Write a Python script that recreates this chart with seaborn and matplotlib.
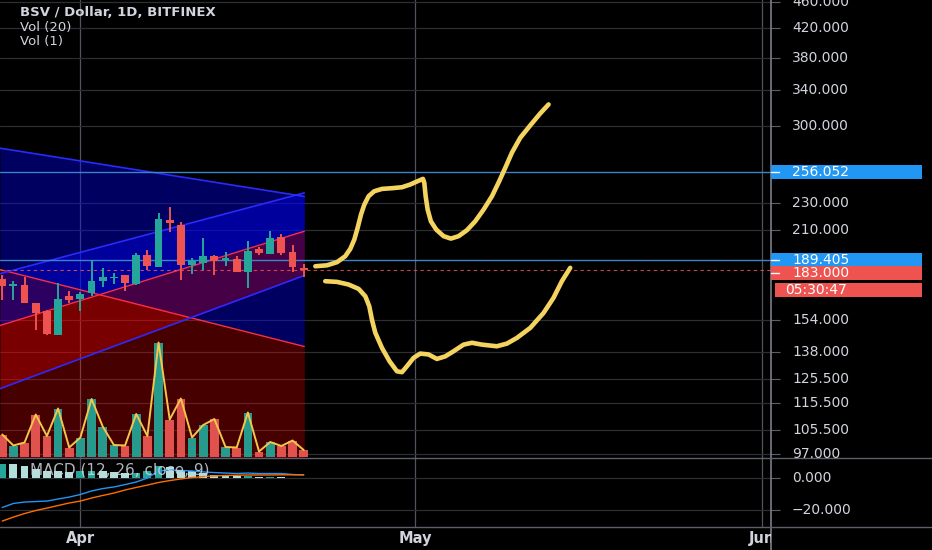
import matplotlib
matplotlib.use('Agg')
import matplotlib.pyplot as plt
import seaborn as sns
import numpy as np
from matplotlib.patches import Rectangle
from matplotlib.lines import Line2D
from matplotlib.ticker import FixedLocator, NullLocator
from matplotlib.transforms import IdentityTransform, Bbox, TransformedBbox
from matplotlib.transforms import blended_transform_factory as blend

# ---- data (days counted from Apr 1) ----
days = list(range(-7, 21))
opens = [177.3, 172.9, 173.5, 163.3, 158.6, 146.4, 167.0, 165.7, 169.0, 175.9,
         177.7, 179.4, 174.4, 192.8, 184.8, 217.5, 213.8, 186.3, 187.0, 191.6,
         189.0, 190.0, 181.4, 196.2, 193.5, 204.7, 194.3, 184.2]
highs = [179.4, 175.9, 178.6, 163.4, 159.1, 174.9, 170.3, 169.4, 189.0, 184.2,
         181.2, 180.0, 193.9, 195.7, 222.1, 227.2, 216.0, 190.6, 204.2, 192.8,
         194.3, 191.6, 201.9, 198.0, 209.4, 207.1, 199.6, 186.9]
lows = [165.1, 165.1, 163.0, 148.9, 146.3, 146.0, 163.3, 158.6, 167.0, 172.5,
        174.4, 169.9, 173.8, 183.1, 184.8, 208.2, 176.5, 180.6, 183.1, 180.0,
        185.6, 181.8, 171.9, 192.8, 193.5, 192.8, 181.4, 178.3]
closes = [172.9, 174.3, 163.3, 157.7, 146.9, 165.5, 165.1, 168.6, 175.9, 178.6,
          178.6, 174.9, 192.8, 185.2, 218.0, 215.0, 186.3, 188.4, 192.1, 188.4,
          190.6, 181.8, 195.0, 193.9, 203.9, 193.9, 184.8, 183.0]
volumes = [22, 11, 14, 42, 20.5, 48, 9, 19, 57.5, 30, 11.5, 11, 42.5, 20.5,
           114, 37, 58, 19, 31.5, 37.5, 9.5, 9, 44, 5, 14.5, 10.5, 16, 6.5]
macd_line = [-18.4, -15.9, -15.0, -14.7, -14.4, -13.1, -11.9, -10.3, -8.1, -6.6,
             -5.6, -4.1, -2.5, 0.0, 4.4, 5.0, 4.7, 4.4, 3.8, 3.4,
             3.1, 2.8, 3.1, 2.8, 2.8, 2.8, 2.2, 1.9]
signal_line = [-26.9, -24.4, -22.2, -20.3, -18.8, -17.2, -15.6, -14.4, -12.5, -10.9,
               -9.4, -7.5, -5.9, -4.4, -2.8, -1.6, -0.6, 0.3, 0.9, 1.3,
               1.6, 1.7, 1.9, 1.9, 1.9, 2.0, 2.0, 2.0]

# regression trend channels: start/end day, mid-line prices, deviation
chan_days = [-7.2, 20.05]
desc_mid = [183.1, 140.5]
desc_dev = 95.0
asc_mid = [151.0, 208.9]
asc_dev = 29.5

# hand drawn projections (day, price)
up_days = [21.04, 22.08, 22.98, 23.72, 24.17, 24.53, 24.83, 25.13, 25.43, 25.81, 26.32,
           27.01, 27.90, 28.80, 29.54, 30.20, 30.68, 30.80, 30.92, 31.10, 31.39, 31.87,
           32.53, 33.18, 33.87, 34.62, 35.36, 36.11, 36.86, 37.51, 38.05, 38.65, 39.39,
           40.29, 41.18, 41.93]
up_prices = [185.2, 185.8, 187.8, 191.7, 196.6, 203.0, 211.4, 221.3, 229.0, 235.7, 239.8,
             241.7, 242.3, 243.1, 245.4, 248.2, 250.2, 246.8, 235.7, 225.1, 216.2, 210.1,
             205.4, 203.7, 205.4, 209.7, 216.2, 225.1, 235.7, 248.2, 259.9, 273.9, 288.2,
             300.8, 313.4, 323.3]
down_days = [21.93, 22.98, 24.02, 24.92, 25.52, 25.87, 26.11, 26.41, 27.01, 27.69,
             28.35, 28.80, 29.25, 29.84, 30.44, 31.18, 31.93, 32.68, 33.42, 34.32,
             35.07, 35.96, 37.30, 38.20, 39.09, 40.29, 41.48, 42.37, 43.12, 43.87]
down_prices = [175.9, 175.5, 173.9, 171.3, 167.0, 161.4, 154.1, 147.3, 139.8, 133.5,
               129.0, 128.6, 131.3, 135.1, 137.1, 136.7, 134.6, 135.8, 138.2, 141.4,
               142.3, 141.4, 140.6, 141.9, 144.7, 149.8, 157.7, 166.1, 175.9, 184.2]

price_ticks = [97, 105.5, 115.5, 125.5, 138, 154, 210, 230, 300, 340, 380, 420, 460]
macd_ticks = [0, -20]
macd_labels = ['0.000', '\u221220.000']
month_days = [0, 30, 61]
month_labels = ['Apr', 'May', 'Jun']
level_prices = [256.052, 189.405]
last_price = 183.0
countdown = '05:30:47'

TEAL, RED = '#26a69a', '#ef5350'
TXT = '#d1d4dc'

sns.set_theme(style='dark', rc={'axes.facecolor': 'black', 'figure.facecolor': 'black'})
plt.rcParams['font.family'] = ['DejaVu Sans']

W, H = 932, 550
fig = plt.figure(figsize=(W / 100, H / 100), dpi=100, facecolor='black')
pr = 771 / W
ax = fig.add_axes([0, 92 / H, pr, 458 / H])
axv = ax.twinx()
axm = fig.add_axes([0, 23 / H, pr, 69 / H], sharex=ax)

for a in (ax, axv, axm):
    for s in a.spines.values():
        s.set_visible(False)
ax.set_facecolor('black')
axm.set_facecolor('black')

# ---- price pane ----
ax.set_yscale('log')
ax.set_ylim(95.7, 463.2)
ax.set_xlim(-7.2, 61.85)
ax.yaxis.set_major_locator(FixedLocator(price_ticks))
ax.yaxis.set_minor_locator(NullLocator())
ax.set_xticks(month_days)
ax.tick_params(axis='y', which='both', left=False, right=True, labelleft=False,
               labelright=False, length=6.5, width=0.8, color='#5d606b')
ax.tick_params(axis='x', bottom=False, labelbottom=False)
ax.grid(axis='y', color='#2c2e36', lw=0.9)
ax.grid(axis='x', color='#50545f', lw=0.9)
ax.set_axisbelow(True)

cx = np.array(chan_days)
for mid, dev in ((np.array(desc_mid), desc_dev), (np.array(asc_mid), asc_dev)):
    ax.fill_between(cx, mid, mid + dev, color='#0000ff', alpha=0.38, lw=0, zorder=1)
    ax.fill_between(cx, mid - dev, mid, color='#ff0000', alpha=0.28, lw=0, zorder=1)
    ax.plot(cx, mid + dev, color='#2a2aff', lw=1.2, zorder=1.5)
    ax.plot(cx, mid - dev, color='#2a2aff', lw=1.2, zorder=1.5)
    ax.plot(cx, mid, color='#ff2d40', lw=1.0, zorder=1.5)

for lv in level_prices:
    ax.axhline(lv, color='#3f82c8', lw=1.0, zorder=2)
ax.axhline(last_price, color=RED, lw=0.8, ls=(0, (3, 3)), alpha=0.85, zorder=2)

x = np.array(days)
o, h, l, c = map(np.array, (opens, highs, lows, closes))
cols = np.where(c >= o, TEAL, RED)
ax.vlines(x, l, h, colors=cols, lw=1.4, zorder=3)
ax.bar(x, np.maximum(np.abs(c - o), 0.6), bottom=np.minimum(o, c), width=0.7,
       color=cols, lw=0, zorder=4)

for px, py in ((up_days, up_prices), (down_days, down_prices)):
    sns.lineplot(x=px, y=py, ax=ax, sort=False, estimator=None, color='#f4d35e',
                 lw=3.3, solid_capstyle='round', solid_joinstyle='round', zorder=6)

# ---- volume overlay ----
axv.bar(x, volumes, width=0.78, color=np.where(c >= o, '#279a8e', '#e0524e'), lw=0, zorder=2)
sns.lineplot(x=days, y=volumes, ax=axv, color='#f2c64a', lw=1.4, zorder=3)
axv.set_ylim(-1.5, 456.5)
axv.set_yticks([])
axv.tick_params(right=False, labelright=False)
axv.grid(False)

# ---- MACD pane ----
axm.set_ylim(-30.6, 12.5)
axm.set_yticks(macd_ticks)
axm.tick_params(axis='y', left=False, right=True, labelleft=False, labelright=False,
                length=6.5, width=0.8, color='#5d606b')
axm.tick_params(axis='x', bottom=False, labelbottom=False)
axm.grid(axis='y', color='#2c2e36', lw=0.9)
axm.grid(axis='x', color='#50545f', lw=0.9)
axm.set_axisbelow(True)
hist = np.array(macd_line) - np.array(signal_line)
prev = np.r_[hist[0], hist[:-1]]
hcols = np.where(hist >= 0, np.where(hist >= prev, '#26a69a', '#b2dfdb'),
                 np.where(hist < prev, '#ff5252', '#ffcdd2'))
axm.bar(x, hist, width=0.7, color=hcols, lw=0, zorder=2)
sns.lineplot(x=days, y=macd_line, ax=axm, color='#2196f3', lw=1.0, zorder=3)
sns.lineplot(x=days, y=signal_line, ax=axm, color='#ff6d00', lw=1.0, zorder=3)

for a in (ax, axv, axm):
    a.set_xlabel('')
    a.set_ylabel('')
ax.set_xlim(-7.2, 61.85)

# ---- frame lines ----
fig.add_artist(Line2D([pr, pr], [0, 1], transform=fig.transFigure, color='#868993', lw=1.1))
for fy in (92 / H, 23 / H):
    fig.add_artist(Line2D([0, 1], [fy, fy], transform=fig.transFigure, color='#5d606b', lw=1.0))

# ---- scale labels ----
clip_p = TransformedBbox(Bbox([[pr, 92 / H], [1, 1]]), fig.transFigure)
clip_m = TransformedBbox(Bbox([[pr, 23 / H], [1, 92 / H]]), fig.transFigure)
clip_d = TransformedBbox(Bbox([[0, 0], [pr, 23 / H]]), fig.transFigure)
for p in price_ticks:
    t = fig.text(792 / W, p, f'{p:.3f}', transform=blend(fig.transFigure, ax.transData),
                 color=TXT, fontsize=10, va='center', ha='left', clip_on=True)
    t.set_clip_box(clip_p)
for v, s in zip(macd_ticks, macd_labels):
    t = fig.text(792 / W, v, s, transform=blend(fig.transFigure, axm.transData),
                 color=TXT, fontsize=10, va='center', ha='left', clip_on=True)
    t.set_clip_box(clip_m)
for d, s in zip(month_days, month_labels):
    t = fig.text(d, 1 - 539 / H, s, transform=blend(axm.transData, fig.transFigure),
                 color=TXT, fontsize=10.5, fontweight='bold', va='center', ha='center',
                 clip_on=True)
    t.set_clip_box(clip_d)


def tag(price, text, color, shift=0, x0=771, tx=792):
    y = ax.transData.transform((0, price))[1] - shift
    fig.add_artist(Rectangle((x0, y - 7), 922 - x0, 14, transform=IdentityTransform(),
                             facecolor=color, edgecolor='none', zorder=5))
    if x0 == 771:
        fig.add_artist(Line2D([771, 779], [y, y], transform=IdentityTransform(),
                              color='white', lw=1, zorder=6))
    fig.text(tx, y, text, transform=IdentityTransform(), color='white', fontsize=10,
             va='center', ha='left', zorder=7)


tag(level_prices[0], f'{level_prices[0]:.3f}', '#2196f3')
tag(level_prices[1], f'{level_prices[1]:.3f}', '#2196f3')
tag(last_price, f'{last_price:.3f}', RED, shift=3)
tag(last_price, countdown, RED, shift=20, x0=775, tx=785)

# ---- legends ----
fig.text(20 / W, 1 - 12 / H, 'BSV / Dollar, 1D, BITFINEX', color=TXT, fontsize=9.5,
         fontweight='bold', va='center')
fig.text(20 / W, 1 - 27 / H, 'Vol (20)', color=TXT, fontsize=9.5, va='center')
fig.text(20 / W, 1 - 41 / H, 'Vol (1)', color=TXT, fontsize=9.5, va='center')
fig.text(30 / W, 1 - 470 / H, 'MACD (12, 26, close, 9)', color=TXT, fontsize=11,
         alpha=0.85, va='center', zorder=8)

fig.savefig('out.png', dpi=100, facecolor='black')
